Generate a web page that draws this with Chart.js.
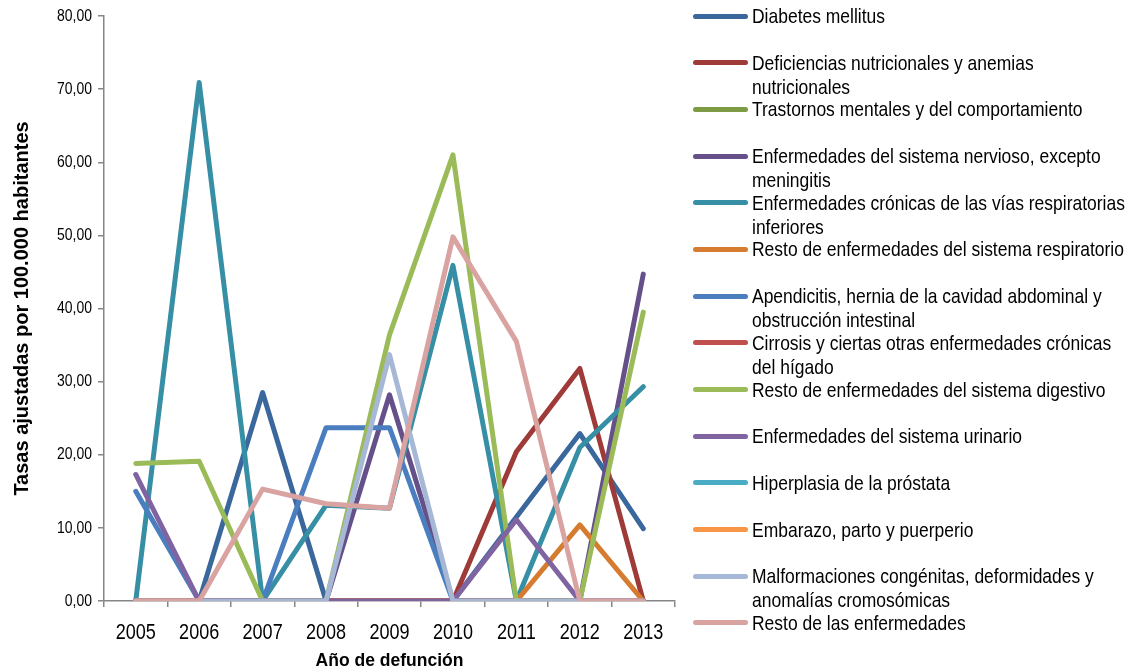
<!DOCTYPE html>
<html>
<head>
<meta charset="utf-8">
<script src="https://cdn.jsdelivr.net/npm/chart.js@4.4.0/dist/chart.umd.min.js"></script>
<style>
  html, body { margin: 0; padding: 0; background: #fff; }
  #wrap { position: relative; width: 1130px; height: 670px; overflow: hidden; }
  #chart { position: absolute; left: 0; top: 0; }
  #legend {
    position: absolute; left: 693px; top: 4px; width: 437px;
    font-family: 'Liberation Sans', Arial, sans-serif;
    font-size: 21px; color: #000;
  }
  .item { position: relative; height: 46.7px; }
  .swatch { position: absolute; left: 0; top: 9.5px; width: 55px; height: 5px; border-radius: 3px; }
  /* condensed look: horizontally squeezed Arial-metric text */
  .label {
    position: absolute; left: 59px; top: 0; width: 458px; line-height: 24px;
    white-space: normal; transform: scaleX(0.832); transform-origin: 0 0;
  }
</style>
</head>
<body>
<div id="wrap">
  <canvas id="chart" width="1130" height="670"></canvas>
  <div id="legend"></div>
</div>
<script>
// Years of death (category axis)
const years = ['2005', '2006', '2007', '2008', '2009', '2010', '2011', '2012', '2013'];

// Adjusted rates per 100,000 inhabitants, one array per cause of death
const diabetes        = [0, 0, 28.5, 0, 0, 0, 11.5, 22.9, 9.9];
const deficiencias    = [0, 0, 0, 0, 0, 0, 20.4, 31.8, 0];
const trastornos      = [0, 0, 0, 0, 0, 0, 0, 0, 0];
const nervioso        = [0, 0, 0, 0, 28.2, 0, 0, 0, 44.7];
const cronicasResp    = [0, 70.9, 0, 13.1, 12.7, 45.9, 0, 21.0, 29.3];
const restoResp       = [0, 0, 0, 0, 0, 0, 0, 10.4, 0];
const apendicitis     = [15.0, 0, 0, 23.7, 23.7, 0, 0, 0, 0];
const cirrosis        = [0, 0, 0, 0, 0, 0, 0, 0, 0];
const restoDigestivo  = [18.8, 19.1, 0, 0, 36.4, 61.0, 0, 0, 39.5];
const urinario        = [17.3, 0, 0, 0, 0, 0, 11.1, 0, 0];
const hiperplasia     = [null, null, null, null, null, null, null, null, null];
const embarazo        = [null, null, null, null, null, null, null, null, null];
const malformaciones  = [0, 0, 0, 0, 33.7, 0, 0, 0, 0];
const restoEnf        = [0, 0, 15.3, 13.3, 12.7, 49.8, 35.5, 0, 0];

// Y axis tick labels
const yTickValues = [0, 10, 20, 30, 40, 50, 60, 70, 80];
const yTickLabels = ['0,00', '10,00', '20,00', '30,00', '40,00', '50,00', '60,00', '70,00', '80,00'];

const seriesNames = [
  'Diabetes mellitus',
  'Deficiencias nutricionales y anemias nutricionales',
  'Trastornos mentales y del comportamiento',
  'Enfermedades del sistema nervioso, excepto meningitis',
  'Enfermedades crónicas de las vías respiratorias inferiores',
  'Resto de enfermedades del sistema respiratorio',
  'Apendicitis, hernia de la cavidad abdominal y obstrucción intestinal',
  'Cirrosis y ciertas otras enfermedades crónicas del hígado',
  'Resto de enfermedades del sistema digestivo',
  'Enfermedades del sistema urinario',
  'Hiperplasia de la próstata',
  'Embarazo, parto y puerperio',
  'Malformaciones congénitas, deformidades y anomalías cromosómicas',
  'Resto de las enfermedades'
];
const seriesValues = [
  diabetes, deficiencias, trastornos, nervioso, cronicasResp, restoResp, apendicitis,
  cirrosis, restoDigestivo, urinario, hiperplasia, embarazo, malformaciones, restoEnf
];
const seriesColors = [
  '#3A679C', '#9E3B38', '#7D9A45', '#65508A', '#368FA5', '#D67C30', '#4A7EBF',
  '#C0504D', '#9BBB59', '#8064A2', '#4BACC6', '#F79646', '#A6B8D6', '#D9A3A2'
];

const wide = "'Liberation Sans', Arial, sans-serif";
const axisGray = '#868686';
const squeeze = 0.82;

const datasets = seriesNames.map((name, i) => ({
  label: name,
  data: seriesValues[i],
  borderColor: seriesColors[i],
  backgroundColor: seriesColors[i],
  // later series are painted over earlier ones
  order: seriesNames.length - 1 - i,
  spanGaps: false
}));

// Tick labels in a condensed face: Arial-metric glyphs squeezed horizontally,
// placed at the pixel positions reported by the chart's own scales.
const condensedTicks = {
  id: 'condensedTicks',
  afterDraw(chart) {
    const ctx = chart.ctx;
    const xs = chart.scales.x;
    const ys = chart.scales.y;
    ctx.save();
    ctx.fillStyle = '#000';

    ctx.font = '17px ' + wide;
    ctx.textAlign = 'right';
    ctx.textBaseline = 'middle';
    yTickValues.forEach((v, i) => {
      ctx.save();
      ctx.translate(xs.left - 12, ys.getPixelForValue(v));
      ctx.scale(squeeze, 1);
      ctx.fillText(yTickLabels[i], 0, 0);
      ctx.restore();
    });

    ctx.font = '22px ' + wide;
    ctx.textAlign = 'center';
    ctx.textBaseline = 'middle';
    years.forEach((yr, i) => {
      ctx.save();
      ctx.translate(xs.getPixelForValue(i), xs.top + 32);
      ctx.scale(squeeze, 1);
      ctx.fillText(yr, 0, 0);
      ctx.restore();
    });
    ctx.restore();
  }
};

const chart = new Chart(document.getElementById('chart'), {
  type: 'line',
  data: { labels: years, datasets },
  plugins: [condensedTicks],
  options: {
    responsive: false,
    animation: false,
    devicePixelRatio: 1,
    layout: { padding: { left: 0, top: 16, right: 455, bottom: 0 } },
    plugins: { legend: { display: false }, tooltip: { enabled: false } },
    elements: {
      line: { borderWidth: 5, tension: 0, borderCapStyle: 'round', borderJoinStyle: 'round', fill: false },
      point: { radius: 0, hoverRadius: 0 }
    },
    scales: {
      x: {
        offset: true,
        grid: { display: true, drawOnChartArea: false, drawTicks: true, tickLength: 6, color: axisGray, lineWidth: 1.5, offset: true },
        border: { display: true, color: axisGray, width: 1.5 },
        ticks: { display: false, autoSkip: false },
        title: {
          display: true, text: 'Año de defunción', color: '#000',
          font: { family: wide, size: 17.5, weight: 'bold' }, padding: { top: 0, bottom: -2 }
        },
        afterFit(scale) { scale.height = 69; }
      },
      y: {
        min: 0, max: 80,
        afterBuildTicks(scale) { scale.ticks = yTickValues.map(v => ({ value: v })); },
        grid: { display: true, drawOnChartArea: false, drawTicks: true, tickLength: 6, color: axisGray, lineWidth: 1.5 },
        border: { display: true, color: axisGray, width: 1.5 },
        ticks: { display: false },
        title: {
          display: true, text: 'Tasas ajustadas por 100.000 habitantes', color: '#000',
          font: { family: wide, size: 20, weight: 'bold' }, padding: { top: 10, bottom: 0 }
        },
        afterFit(scale) { scale.width = 104; }
      }
    }
  }
});

// HTML legend built from the chart's datasets
const legend = document.getElementById('legend');
chart.data.datasets.forEach(ds => {
  const item = document.createElement('div');
  item.className = 'item';
  const sw = document.createElement('span');
  sw.className = 'swatch';
  sw.style.background = ds.borderColor;
  const tx = document.createElement('span');
  tx.className = 'label';
  tx.textContent = ds.label;
  item.appendChild(sw);
  item.appendChild(tx);
  legend.appendChild(item);
});
</script>
</body>
</html>
